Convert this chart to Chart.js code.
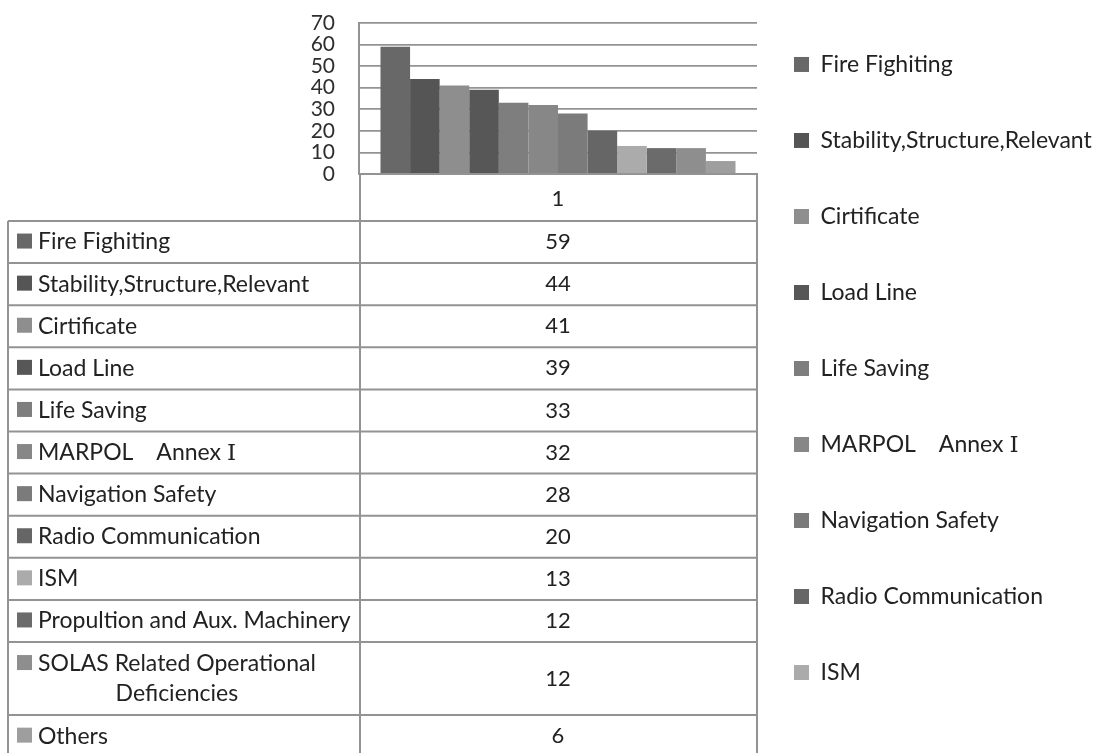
<!DOCTYPE html>
<html>
<head>
<meta charset="utf-8">
<script src="https://cdn.jsdelivr.net/npm/chart.js@4.4.1/dist/chart.umd.min.js"></script>
<style>
  html, body { margin: 0; padding: 0; background: #ffffff; }
  #wrap { width: 1098px; height: 753px; }
</style>
</head>
<body>
<div id="wrap"><canvas id="chart" width="1098" height="753"></canvas></div>
<script>
// Deficiency counts by category (single group "1")
const groupLabels = ['1'];
const categories = [
  'Fire Fighiting',
  'Stability,Structure,Relevant',
  'Cirtificate',
  'Load Line',
  'Life Saving',
  'MARPOL\u3000Annex \u2160',
  'Navigation Safety',
  'Radio Communication',
  'ISM',
  'Propultion and Aux. Machinery',
  'SOLAS Related Operational Deficiencies',
  'Others'
];
const counts = [59, 44, 41, 39, 33, 32, 28, 20, 13, 12, 12, 6];
const yTicks = [0, 10, 20, 30, 40, 50, 60, 70];
const titleText = 'Figure 2 Number of Deficiency of Each Category';

const barColors = [
  '#686868', '#555555', '#8e8e8e', '#575757', '#7e7e7e', '#878787',
  '#7b7b7b', '#666666', '#ababab', '#6b6b6b', '#8e8e8e', '#9e9e9e'
];

const FONT = 'Lato, "DejaVu Serif", "Noto Sans CJK JP", sans-serif';
const TEXT_COLOR = '#222222';
const LINE_COLOR = '#939393';
const LEGEND_ITEMS_SHOWN = 9;

// Data table drawn under the plot area, one row per series
const dataTablePlugin = {
  id: 'dataTable',
  afterDraw(chart) {
    const ctx = chart.ctx;
    const area = chart.chartArea;
    const xs = chart.scales.x;
    const colCenter = xs.getPixelForValue(0);
    const tableLeft = 8;
    const keyX = 17, keySize = 15, textX = 38;
    const headerH = 47, rowH = 42.1, extraLineH = 31, lineGap = 30;
    const wrapWidth = area.left - textX - 2;
    const labelFont = '23px ' + FONT;
    const numberFont = '22px ' + FONT;

    ctx.save();
    ctx.textBaseline = 'middle';
    ctx.fillStyle = TEXT_COLOR;

    // header cell
    ctx.font = numberFont;
    ctx.textAlign = 'center';
    ctx.fillText(groupLabels[0], colCenter, area.bottom + headerH / 2 + 1);

    ctx.font = labelFont;
    const wrap = (text) => {
      const words = text.split(' ');
      const lines = [];
      let cur = '';
      words.forEach((w) => {
        const test = cur ? cur + ' ' + w : w;
        if (cur && ctx.measureText(test).width > wrapWidth) {
          lines.push(cur);
          cur = w;
        } else {
          cur = test;
        }
      });
      if (cur) lines.push(cur);
      return lines;
    };

    const rowTops = [];
    let y = area.bottom + headerH;
    chart.data.datasets.forEach((ds) => {
      ctx.font = labelFont;
      const lines = wrap(ds.label);
      const h = rowH + (lines.length - 1) * extraLineH;
      const mid = y + h / 2;
      rowTops.push(y);
      const firstLineY = mid - (lines.length - 1) * lineGap / 2;

      // legend key
      ctx.fillStyle = ds.backgroundColor;
      ctx.fillRect(keyX, firstLineY - keySize / 2 - 1, keySize, keySize);

      // category text
      ctx.fillStyle = TEXT_COLOR;
      ctx.textAlign = 'left';
      ctx.fillText(lines[0], textX, firstLineY);
      const firstW = ctx.measureText(lines[0]).width;
      ctx.textAlign = 'center';
      for (let k = 1; k < lines.length; k++) {
        ctx.fillText(lines[k], textX + firstW / 2, firstLineY + k * lineGap);
      }

      // value
      ctx.font = numberFont;
      ctx.fillText(String(ds.data[0]), colCenter, mid);
      y += h;
    });
    rowTops.push(y);

    // grid lines of the table
    ctx.strokeStyle = LINE_COLOR;
    ctx.lineWidth = 2;
    ctx.beginPath();
    rowTops.forEach((t) => {
      ctx.moveTo(tableLeft, t);
      ctx.lineTo(area.right, t);
    });
    ctx.moveTo(tableLeft, rowTops[0]);
    ctx.lineTo(tableLeft, chart.height + 5);
    ctx.moveTo(area.left + 1, area.bottom);
    ctx.lineTo(area.left + 1, chart.height + 5);
    ctx.moveTo(area.right, area.bottom);
    ctx.lineTo(area.right, chart.height + 5);
    ctx.stroke();
    ctx.restore();
  }
};

const datasets = categories.map((name, i) => ({
  label: name,
  data: [counts[i]],
  backgroundColor: barColors[i],
  borderWidth: 0,
  categoryPercentage: 0.892,
  barPercentage: 1.0
}));

new Chart(document.getElementById('chart'), {
  type: 'bar',
  data: { labels: groupLabels, datasets },
  plugins: [dataTablePlugin],
  options: {
    responsive: false,
    animation: false,
    devicePixelRatio: 1,
    layout: { padding: 0 },
    plugins: {
      tooltip: { enabled: false },
      title: {
        display: true,
        text: titleText,
        color: '#000000',
        font: { family: '"Liberation Serif", "Times New Roman", serif', size: 24, weight: 'bold', lineHeight: 1.2 },
        padding: { top: -25.6, bottom: 19.8 }
      },
      legend: {
        position: 'right',
        align: 'center',
        maxWidth: 341,
        labels: {
          font: { family: FONT, size: 23, lineHeight: 1.696 },
          color: TEXT_COLOR,
          boxWidth: 15,
          boxHeight: 15,
          padding: 37,
          generateLabels(chart) {
            const items = Chart.defaults.plugins.legend.labels.generateLabels(chart);
            return items.map((it) => Object.assign({}, it, { text: [it.text] }));
          },
          filter: (item) => item.datasetIndex < LEGEND_ITEMS_SHOWN
        }
      }
    },
    scales: {
      x: {
        ticks: { display: false },
        grid: { display: false },
        border: { display: true, color: LINE_COLOR, width: 2 },
        afterFit(scale) { scale.height = 753 - 174; }
      },
      y: {
        min: 0,
        max: 70,
        afterBuildTicks(scale) { scale.ticks = yTicks.map((v) => ({ value: v })); },
        ticks: {
          autoSkip: false,
          padding: 0,
          color: '#2e2e2e',
          font: { family: FONT, size: 21, lineHeight: 1 }
        },
        grid: { color: LINE_COLOR, lineWidth: 1.8, drawTicks: true, tickLength: 24, tickColor: 'rgba(0,0,0,0)' },
        border: { display: true, color: LINE_COLOR, width: 2 },
        afterFit(scale) { scale.width = 359; }
      }
    }
  }
});
</script>
</body>
</html>
